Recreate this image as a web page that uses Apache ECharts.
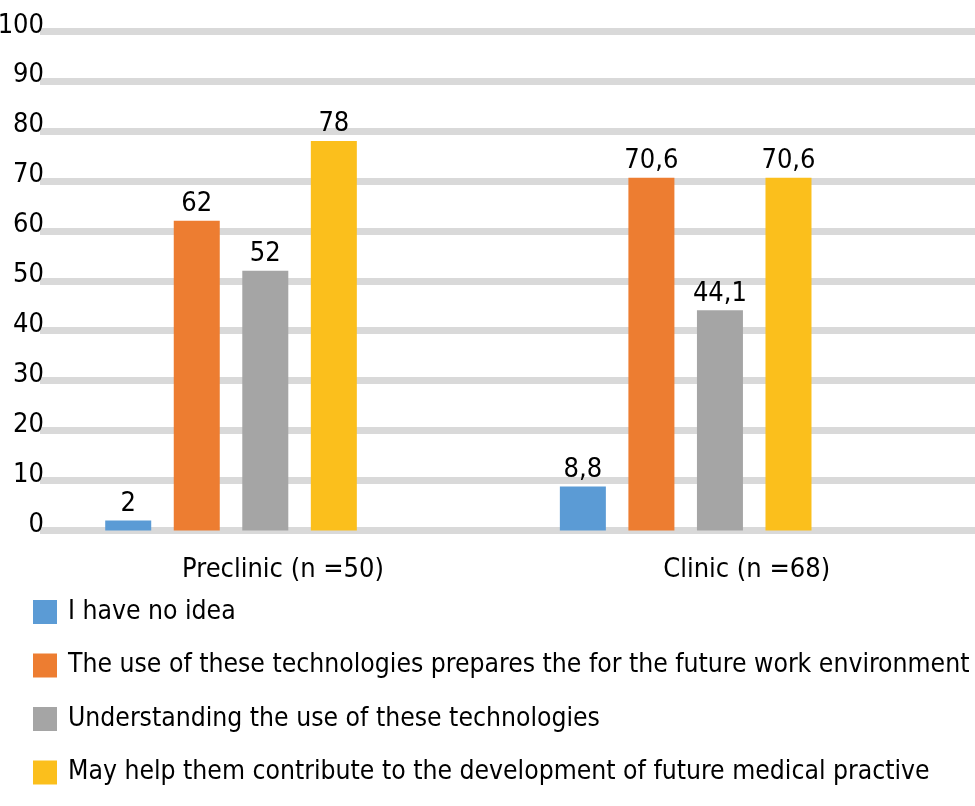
<!DOCTYPE html>
<html lang="en" style="height: 100%">
<head>
    <meta charset="utf-8">
</head>
<body style="height: 100%; margin: 0">
<div id="container" style="width: 975px; height: 806px"></div>

<script type="text/javascript" src="https://fastly.jsdelivr.net/npm/echarts@6.0.0/dist/echarts.min.js"></script>

<script type="text/javascript">
    var dom = document.getElementById('container');
    var myChart = echarts.init(dom, null, {renderer: 'canvas'});

    // data
    var groups = ['Preclinic (n =50)', 'Clinic (n =68)'];
    var seriesNames = [
        'I have no idea',
        'The use of these technologies prepares the for the future work environment',
        'Understanding the use of these technologies',
        'May help them contribute to the development of future medical practive'
    ];
    var noIdea = [2, 8.8];
    var futureWork = [62, 70.6];
    var understanding = [52, 44.1];
    var contribute = [78, 70.6];
    var colors = ['#5B9BD5', '#ED7D31', '#A5A5A5', '#FBBF1C'];

    var FONT = "'DejaVu Sans Condensed', 'Liberation Sans Narrow', sans-serif";
    var FS = 27;

    var values = [noIdea, futureWork, understanding, contribute];
    var seriesList = [];
    values.forEach(function (vals, i) {
        seriesList.push({
            name: seriesNames[i],
            type: 'bar',
            xAxisIndex: 1,
            yAxisIndex: 1,
            data: vals,
            barWidth: 46,
            barGap: '49%',
            itemStyle: {color: colors[i]},
            label: {
                show: true,
                position: 'top',
                distance: 3,
                color: '#000',
                fontFamily: FONT,
                fontSize: FS,
                formatter: function (p) {
                    return String(p.value).replace('.', ',');
                }
            }
        });
    });

    var option = {
        animation: false,
        backgroundColor: '#fff',
        color: colors,
        grid: [
            // gridlines + y labels
            {left: 40, right: 0, top: 31, bottom: 275.5, outerBoundsMode: 'none'},
            // bars
            {left: 3.7, right: 62, top: 31, bottom: 275.5, outerBoundsMode: 'none'},
            // category labels
            {left: 51.2, right: -3.5, top: 31, bottom: 275.5, outerBoundsMode: 'none'}
        ],
        legend: {
            orient: 'vertical',
            left: 28,
            top: 594,
            itemWidth: 24,
            itemHeight: 24,
            itemGap: 27.5,
            icon: 'rect',
            data: seriesNames,
            textStyle: {
                color: '#000',
                fontFamily: FONT,
                fontSize: 26.3,
                padding: [0, 0, 0, 6]
            }
        },
        xAxis: [
            {gridIndex: 0, type: 'category', data: groups, show: false},
            {gridIndex: 1, type: 'category', data: groups, show: false},
            {
                gridIndex: 2,
                type: 'category',
                data: groups,
                axisLine: {show: false},
                axisTick: {show: false},
                axisLabel: {
                    color: '#000',
                    fontFamily: FONT,
                    fontSize: FS,
                    margin: 26
                }
            }
        ],
        yAxis: [
            {
                gridIndex: 0,
                type: 'value',
                min: 0,
                max: 100,
                interval: 10,
                axisLine: {show: false},
                axisTick: {show: false},
                splitLine: {lineStyle: {color: '#D9D9D9', width: 7}},
                axisLabel: {
                    color: '#000',
                    fontFamily: FONT,
                    fontSize: FS,
                    margin: -4,
                    verticalAlign: 'bottom',
                    lineHeight: 11
                }
            },
            {gridIndex: 1, type: 'value', min: 0, max: 100, show: false},
            {gridIndex: 2, type: 'value', min: 0, max: 100, show: false}
        ],
        series: seriesList
    };

    myChart.setOption(option);
    window.addEventListener('resize', myChart.resize);
</script>
</body>
</html>
